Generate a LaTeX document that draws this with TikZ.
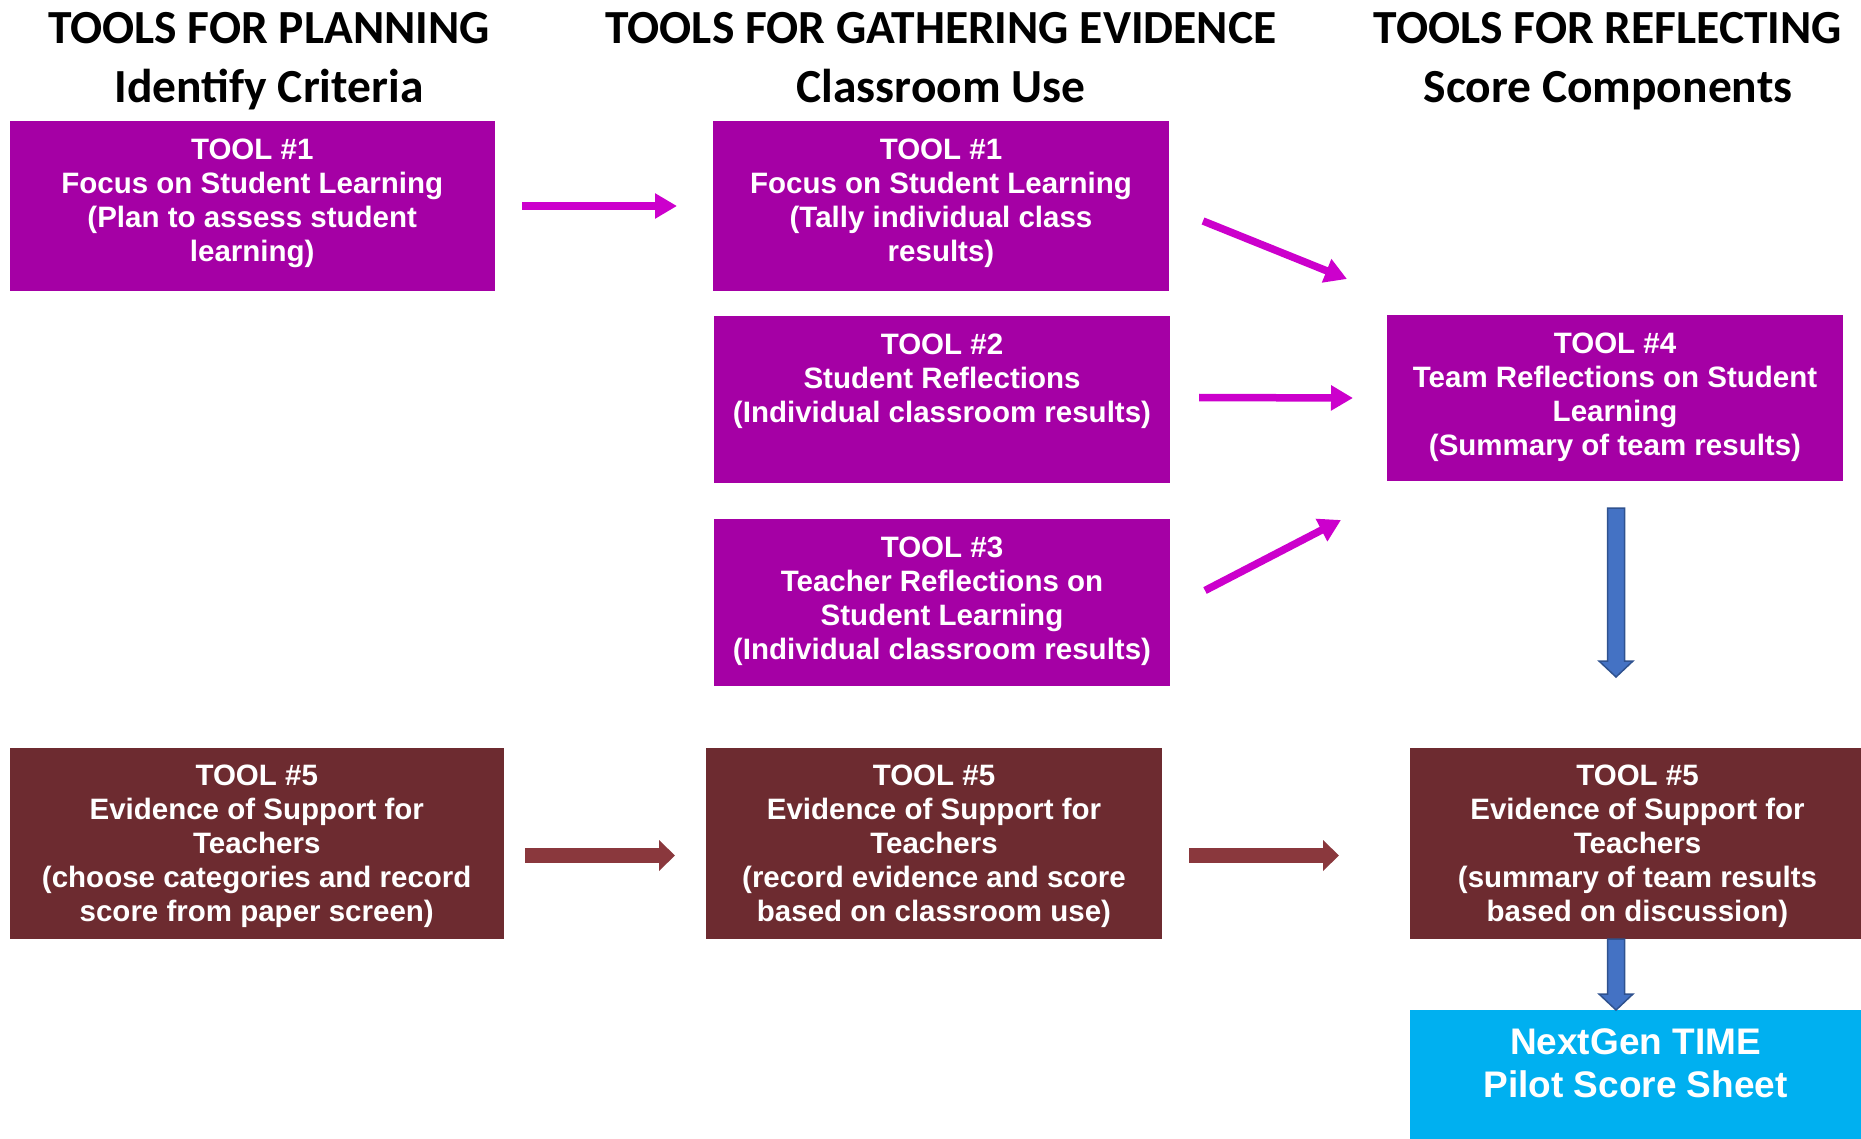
\documentclass[tikz,border=0pt]{standalone}
\usepackage{fontspec}
\setmainfont{Liberation Sans}
\newfontfamily\headfont{Carlito}
\usetikzlibrary{arrows.meta}

\definecolor{toolpurple}{HTML}{A500A5}
\definecolor{arrowpurple}{HTML}{CC00CC}
\definecolor{toolbrown}{HTML}{6D2B30}
\definecolor{arrowbrown}{HTML}{8A383D}
\definecolor{scorecyan}{HTML}{00B0F0}
\definecolor{flowblue}{HTML}{4472C4}
\definecolor{flowblueedge}{HTML}{2F528F}

\begin{document}
\begin{tikzpicture}[x=1pt,y=-1pt,
  head/.style={anchor=base, inner sep=0pt, font=\headfont\bfseries\fontsize{47.5}{56}\selectfont},
  box/.style={anchor=north west, inner sep=0pt, outer sep=0pt},
  pbox/.style={box, fill=toolpurple},
  bbox/.style={box, fill=toolbrown},
  cbox/.style={box, fill=scorecyan},
  boxtext/.style={anchor=north, align=center, inner sep=0pt, text=white,
    font=\bfseries\fontsize{29.5}{34}\selectfont},
  bigtext/.style={anchor=north, align=center, inner sep=0pt, text=white,
    font=\bfseries\fontsize{37}{43}\selectfont},
  parrow/.style={draw=arrowpurple, line width=7.5pt, -{Triangle[length=22pt,width=24pt]}},
  rarrow/.style={draw=arrowbrown, line width=15pt, -{Triangle[length=16pt,width=30pt]}},
  barrow/.style={fill=flowblue, draw=flowblueedge, line width=1.5pt, line join=miter}
]
\useasboundingbox (0,0) rectangle (1861,1139);

% column headings
\node[head] (h1a) at (269,43.5)  {TOOLS FOR PLANNING};
\node[head] (h1b) at (269,102.5) {Identify Criteria};
\node[head] (h2a) at (941,43.5)  {TOOLS FOR GATHERING EVIDENCE};
\node[head] (h2b) at (941,102.5) {Classroom Use};
\node[head] (h3a) at (1608,43.5) {TOOLS FOR REFLECTING};
\node[head] (h3b) at (1608,102.5) {Score Components};

% tool boxes
\node[pbox, minimum width=485.5pt, minimum height=170pt] (a1) at (9.5,121) {};
\node[pbox, minimum width=456pt, minimum height=170pt] (b1) at (713,121) {};
\node[pbox, minimum width=456pt, minimum height=167pt] (b2) at (714,316) {};
\node[pbox, minimum width=456pt, minimum height=167pt] (b3) at (714,519) {};
\node[pbox, minimum width=456pt, minimum height=166pt] (c4) at (1387,315) {};
\node[bbox, minimum width=494.5pt, minimum height=191pt] (a5) at (9.5,748) {};
\node[bbox, minimum width=456pt, minimum height=191pt] (b5) at (706,748) {};
\node[bbox, minimum width=451pt, minimum height=191pt] (c5) at (1410,748) {};
\node[cbox, minimum width=451pt, minimum height=129pt] (d) at (1410,1010) {};

% box texts
\node[boxtext] (a1t) at ([shift={(0,17.5)}]a1.north)
  {TOOL \#1\\Focus on Student Learning\\(Plan to assess student\\learning)};
\node[boxtext] (b1t) at ([shift={(0,17.5)}]b1.north)
  {TOOL \#1\\Focus on Student Learning\\(Tally individual class\\results)};
\node[boxtext] (b2t) at ([shift={(0,17.5)}]b2.north)
  {TOOL \#2\\Student Reflections\\(Individual classroom results)};
\node[boxtext] (b3t) at ([shift={(0,17.5)}]b3.north)
  {TOOL \#3\\Teacher Reflections on\\Student Learning\\(Individual classroom results)};
\node[boxtext] (c4t) at ([shift={(0,17.5)}]c4.north)
  {TOOL \#4\\Team Reflections on Student\\Learning\\(Summary of team results)};
\node[boxtext] (a5t) at ([shift={(0,16.5)}]a5.north)
  {TOOL \#5\\Evidence of Support for\\Teachers\\(choose categories and record\\score from paper screen)};
\node[boxtext] (b5t) at ([shift={(0,16.5)}]b5.north)
  {TOOL \#5\\Evidence of Support for\\Teachers\\(record evidence and score\\based on classroom use)};
\node[boxtext] (c5t) at ([shift={(2,16.5)}]c5.north)
  {TOOL \#5\\Evidence of Support for\\Teachers\\(summary of team results\\based on discussion)};
\node[bigtext] (dt) at ([shift={(0,18.5)}]d.north)
  {NextGen TIME\\Pilot Score Sheet};

% purple connectors
\draw[parrow] ([shift={(27,0)}]a1.east) -- ([shift={(-36,0)}]b1.west);
\draw[parrow] ([shift={(34,15)}]b1.east) -- ([shift={(-40,-36)}]c4.north west);
\draw[parrow] ([shift={(29,-2)}]b2.east) -- ([shift={(-34,0)}]c4.west);
\draw[parrow] ([shift={(35,-12)}]b3.east) -- ([shift={(-46,39)}]c4.south west);

% brown connectors
\draw[rarrow] ([shift={(21,12)}]a5.east) -- ([shift={(-31,12)}]b5.west);
\draw[rarrow] ([shift={(27,12)}]b5.east) -- ([shift={(-71,12)}]c5.west);

% blue block arrows
\coordinate (t1) at ([shift={(1,27)}]c4.south);
\coordinate (q1) at ([shift={(1,0)}]c4.south |- c5.north);
\coordinate (p1) at ([shift={(0,-71)}]q1);
\coordinate (t2) at ([shift={(1,0)}]c4.south |- c5.south);
\coordinate (p2) at ([shift={(1,0)}]c4.south |- d.north);
\draw[barrow] ([shift={(-8.5,0)}]t1) -- ([shift={(8.5,0)}]t1) -- ([shift={(8.5,-16)}]p1)
  -- ([shift={(17,-16)}]p1) -- (p1) -- ([shift={(-17,-16)}]p1) -- ([shift={(-8.5,-16)}]p1) -- cycle;
\draw[barrow] ([shift={(-8.5,0)}]t2) -- ([shift={(8.5,0)}]t2) -- ([shift={(8.5,-16)}]p2)
  -- ([shift={(17,-16)}]p2) -- (p2) -- ([shift={(-17,-16)}]p2) -- ([shift={(-8.5,-16)}]p2) -- cycle;
\end{tikzpicture}
\end{document}
